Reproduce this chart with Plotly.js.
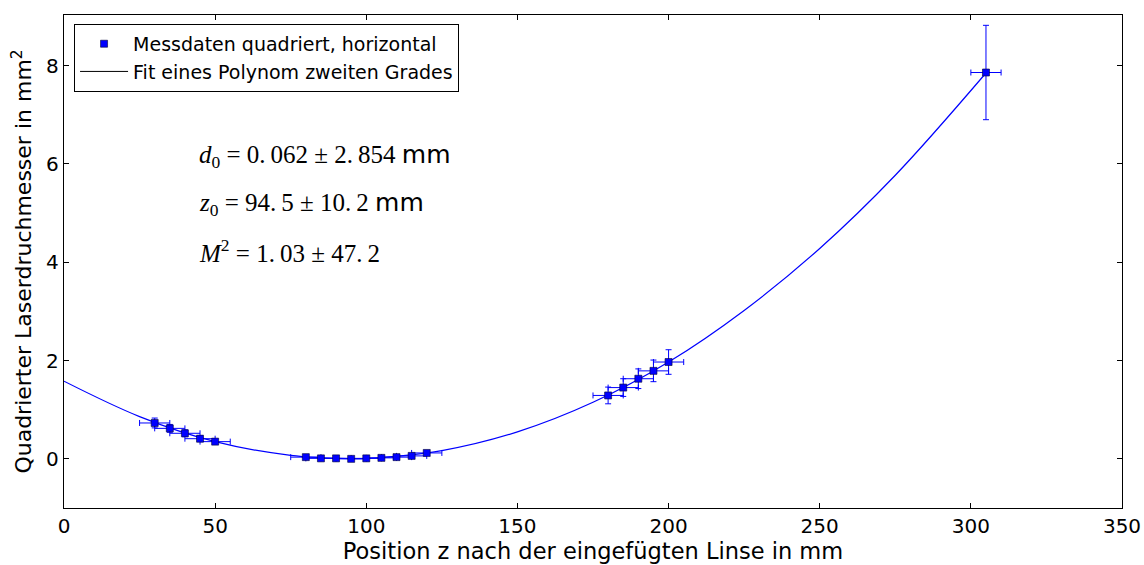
<!DOCTYPE html>
<html>
<head>
<meta charset="utf-8">
<script src="https://cdn.plot.ly/plotly-3.0.1.min.js"></script>
<style>html,body{margin:0;padding:0;background:#fff;}#chart{width:1144px;height:565px;}</style>
</head>
<body>
<div id="chart"></div>
<script>
// Measured data (squared beam diameter vs. position)
const posZ = [30, 35, 40, 45, 50, 80, 85, 90, 95, 100, 105, 110, 115, 120, 180, 185, 190, 195, 200, 305];
const diamSq = [0.73, 0.62, 0.52, 0.41, 0.35, 0.035, 0.01, 0.01, 0.0, 0.01, 0.02, 0.035, 0.06, 0.12, 1.29, 1.45, 1.63, 1.79, 1.97, 7.86];
const errZ = [5, 5, 5, 5, 5, 5, 5, 5, 5, 5, 5, 5, 5, 5, 5, 5, 5, 5, 5, 5];
const errDiamSq = [0.1, 0.08, 0.07, 0.06, 0.05, 0.01, 0.01, 0.01, 0.01, 0.01, 0.01, 0.01, 0.01, 0.02, 0.17, 0.18, 0.2, 0.22, 0.25, 0.96];

// Fit curve values
const fitZ = [0, 25, 50, 75, 94.5, 100, 125, 150, 175, 200, 225, 250, 275, 305];
const fitY = [1.58, 0.86, 0.35, 0.071, 0.004, 0.009, 0.169, 0.549, 1.15, 1.97, 3.02, 4.28, 5.77, 7.85];

const xTicks = [0, 50, 100, 150, 200, 250, 300, 350];
const yTicks = [0, 2, 4, 6, 8];

const blue = '#0000ff';
const traces = [
  {
    x: fitZ, y: fitY, mode: 'lines', type: 'scatter',
    line: {color: blue, width: 1.2, shape: 'spline', smoothing: 1.0},
    showlegend: false, hoverinfo: 'skip'
  },
  {
    x: posZ, y: diamSq, mode: 'markers', type: 'scatter',
    name: 'Messdaten quadriert, horizontal', legendgroup: 'a',
    marker: {symbol: 'square', size: 7, color: blue, line: {color: '#000033', width: 0.6}},
    error_x: {type: 'data', array: errZ, visible: true, color: blue, thickness: 1, width: 3},
    error_y: {type: 'data', array: errDiamSq, visible: true, color: blue, thickness: 1, width: 3}
  },
  {
    x: [null], y: [null], mode: 'lines', type: 'scatter',
    name: 'Fit eines Polynom zweiten Grades', legendgroup: 'b',
    line: {color: '#000000', width: 1}
  }
];

const mathFont = {family: 'Liberation Serif, DejaVu Serif, serif', size: 25, color: '#000'};
const mm = '<span style="font-family:DejaVu Sans">mm</span>';
const annText = [
  '<i>d</i><sub>0</sub> = 0.\u2009062 ± 2.\u2009854 ' + mm,
  '<i>z</i><sub>0</sub> = 94.\u20095 ± 10.\u20092 ' + mm,
  '<i>M</i><sup>2</sup> = 1.\u200903 ± 47.\u20092'
];
const annY = [6.17, 5.18, 4.22];

const layout = {
  width: 1144, height: 565,
  margin: {l: 64, r: 22, t: 15, b: 57},
  paper_bgcolor: '#fff', plot_bgcolor: '#fff',
  font: {family: 'DejaVu Sans, sans-serif', color: '#000', size: 20},
  showlegend: true,
  legend: {
    x: 0.0095, y: 0.982, xanchor: 'left', yanchor: 'top',
    bordercolor: '#000', borderwidth: 1, bgcolor: '#fff',
    font: {size: 19, family: 'DejaVu Sans, sans-serif'},
    traceorder: 'grouped', tracegroupgap: 0, itemwidth: 48
  },
  xaxis: {
    range: [0, 350], tickvals: xTicks, ticktext: xTicks.map(String),
    ticks: 'inside', ticklen: 5, tickcolor: '#000', tickwidth: 1,
    showline: true, linecolor: '#000', linewidth: 1.2, mirror: 'ticks',
    showgrid: false, zeroline: false,
    tickfont: {size: 20},
    title: {text: 'Position z nach der eingefügten Linse in mm', font: {size: 22.5}, standoff: 2}
  },
  yaxis: {
    range: [-1, 9.03], tickvals: yTicks, ticktext: yTicks.map(String),
    ticks: 'inside', ticklen: 5, tickcolor: '#000', tickwidth: 1,
    showline: true, linecolor: '#000', linewidth: 1.2, mirror: 'ticks',
    showgrid: false, zeroline: false,
    tickfont: {size: 20},
    title: {text: 'Quadrierter Laserdruchmesser in mm<sup>2</sup>', font: {size: 22}, standoff: 8}
  },
  annotations: annText.map((t, i) => ({
    x: 44, y: annY[i], xref: 'x', yref: 'y', xanchor: 'left', yanchor: 'middle',
    text: t, showarrow: false, font: mathFont
  }))
};

Plotly.newPlot('chart', traces, layout, {displayModeBar: false, staticPlot: true});
</script>
</body>
</html>
